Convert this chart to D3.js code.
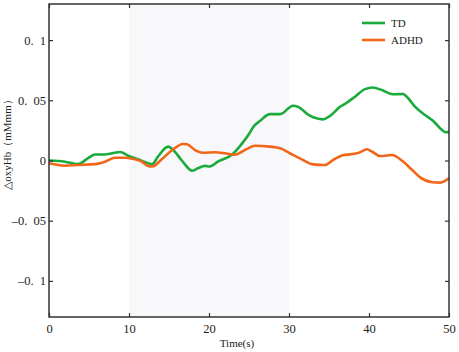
<!DOCTYPE html>
<html><head><meta charset="utf-8">
<script src="https://cdn.jsdelivr.net/npm/d3@7"></script>
<style>body{margin:0;background:#fff}svg{display:block}text{font-family:"Liberation Serif","Times New Roman",serif;fill:#222}</style>
</head><body><svg id="c" width="459" height="352"></svg>
<script>
const tdTime = [0,2,3.6,4.9,5.75,7,7.9,8.9,9.9,11.1,12.4,12.9,13.6,14.9,15.5,16.6,17.9,18.6,19.5,20.1,21.1,22.9,24,25,25.6,26.4,27.6,28.9,30.5,31.1,32.6,34.25,35.1,36.4,37,38.25,39.5,40.5,41.6,43,44.25,44.9,45.75,47,48,49.1,49.5,50];
const tdValue = [0,-0.001,-0.003,0.002,0.005,0.005,0.006,0.007,0.004,0.001,-0.0023,-0.003,0.003,0.0115,0.009,0,-0.0085,-0.0065,-0.0045,-0.005,-0.001,0.005,0.013,0.022,0.0285,0.033,0.0385,0.0385,0.0455,0.0447,0.0372,0.0342,0.0369,0.0447,0.047,0.053,0.0593,0.0607,0.0585,0.055,0.0553,0.0517,0.0447,0.0378,0.0331,0.0255,0.0236,0.0236];
const adhdTime = [0,2,3.6,5.75,7,8.25,9.5,10.4,11.6,12.4,12.9,14.1,15.4,16.75,17.25,18.25,19.25,20.75,22,23.25,24.1,24.75,25.75,27.6,28.9,30.1,31.75,33,34.5,35.5,36.75,37.6,38.75,39.75,40.4,41.4,42.9,44.1,45.4,46.4,47.9,48.9,50];
const adhdValue = [-0.0023,-0.0043,-0.0037,-0.003,-0.001,0.0023,0.0023,0.0015,-0.001,-0.0046,-0.005,0.001,0.0087,0.0137,0.0135,0.0087,0.0065,0.0068,0.006,0.0048,0.0073,0.0096,0.0123,0.0115,0.0101,0.006,0.0004,-0.0032,-0.0037,0.0004,0.0043,0.0051,0.0065,0.0093,0.0073,0.0037,0.0046,0,-0.0079,-0.014,-0.018,-0.0184,-0.0148];
const xTicks = [0,10,20,30,40,50];
const yTicks = [0.1,0.05,0,-0.05,-0.1];
const yTickLabels = ["0.\u20021","0.\u200205","0","\u20130.\u200205","\u20130.\u20021"];
const shadeRange = [10,30];
const seriesNames = ["TD","ADHD"];
const colors = ["#1aab3c","#f2661a"];

const svg = d3.select("#c");
const L=49,R=449,T=4,B=317;
const x = d3.scaleLinear().domain([0,50]).range([L,R]);
const y = d3.scaleLinear().domain([-0.13,0.13]).range([B,T]);

svg.append("rect").attr("x",x(shadeRange[0])).attr("y",T).attr("width",x(shadeRange[1])-x(shadeRange[0])).attr("height",B-T).attr("fill","#f8f8fb");

const line = d3.line().x(d=>x(d[0])).y(d=>y(d[1])).curve(d3.curveMonotoneX);
const series = [d3.zip(tdTime,tdValue), d3.zip(adhdTime,adhdValue)];
series.forEach((s,i)=>{
  svg.append("path").datum(s).attr("d",line).attr("fill","none").attr("stroke",colors[i]).attr("stroke-width",2.6).attr("stroke-linejoin","round");
});

const fmtY = d=>yTickLabels[yTicks.indexOf(d)];
const ax = (g,a)=>{g.call(a); g.select(".domain").remove(); g.selectAll("line").attr("stroke","#333").attr("stroke-width",1.2); g.selectAll("text").attr("fill","#111");};
svg.append("g").attr("transform",`translate(0,${B})`).call(g=>ax(g,d3.axisBottom(x).tickValues(xTicks).tickSize(-4).tickPadding(7).tickFormat(d3.format("d"))))
  .selectAll("text").attr("font-size",12.5);
svg.append("g").attr("transform",`translate(0,${T})`).call(g=>ax(g,d3.axisTop(x).tickValues(xTicks).tickSize(-4).tickFormat("")));
svg.append("g").attr("transform",`translate(${L},0)`).call(g=>ax(g,d3.axisLeft(y).tickValues(yTicks).tickSize(-4).tickPadding(3).tickFormat(fmtY)))
  .selectAll("text").attr("font-size",12.5);
svg.append("g").attr("transform",`translate(${R},0)`).call(g=>ax(g,d3.axisRight(y).tickValues(yTicks).tickSize(-4).tickFormat("")));

svg.append("rect").attr("x",L).attr("y",T).attr("width",R-L).attr("height",B-T).attr("fill","none").attr("stroke","#333").attr("stroke-width",1.5);

svg.append("text").attr("x",237).attr("y",347).attr("text-anchor","middle").attr("font-size",11).text("Time(s)");
svg.append("text").attr("transform","translate(11,142) rotate(-90)").attr("text-anchor","middle").attr("font-size",11).text("\u25B3oxyHb\uFF08mMmm\uFF09");

seriesNames.forEach((n,i)=>{
  const ly = 23 + i*17;
  svg.append("line").attr("x1",362).attr("x2",385).attr("y1",ly).attr("y2",ly).attr("stroke",colors[i]).attr("stroke-width",2.6);
  svg.append("text").attr("x",391).attr("y",ly+4).attr("font-size",11).text(n);
});
</script></body></html>
